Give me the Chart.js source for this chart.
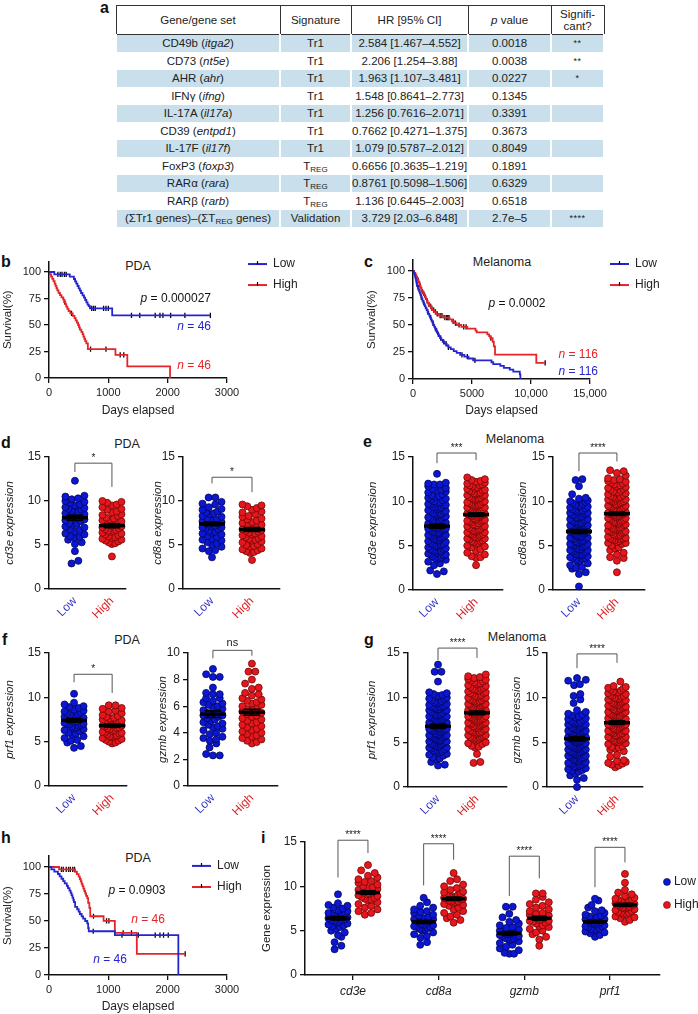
<!DOCTYPE html>
<html>
<head>
<meta charset="utf-8">
<title>Tr1 signature: survival and effector gene expression</title>
<script src="https://cdn.jsdelivr.net/npm/chart.js@4.4.1/dist/chart.umd.min.js"></script>
<style>
  html, body { margin: 0; padding: 0; background: #fff; }
  body { position: relative; width: 698px; height: 1014px; overflow: hidden; font-family: "Liberation Sans", Arial, sans-serif; color: #222; }
  canvas { position: absolute; }
  .letter { position: absolute; font-weight: bold; font-size: 16px; line-height: 16px; transform: translateY(-50%); color: #111; }
  .ptitle { position: absolute; font-size: 12.5px; line-height: 14px; transform: translate(-50%, -50%); white-space: nowrap; }
  #tbl { position: absolute; left: 115px; top: 5px; border-collapse: collapse; table-layout: fixed; font-size: 11.5px; color: #222; }
  #tbl th { font-weight: normal; height: 28px; padding: 0; border: 1px solid #333; line-height: 12px; text-align: center; }
  #tbl td { height: 16.5px; padding: 0; text-align: center; border-top: 1px solid #fff; border-left: 2px solid #fff; border-right: 2px solid #fff; white-space: nowrap; }
  #tbl tr.shade td { background: #c9dfeb; }
  #tbl sub { font-size: 8px; line-height: 0; vertical-align: -2px; }
  #tbl td.stars { font-size: 9px; letter-spacing: 0.5px; }
</style>
</head>
<body>
<table id="tbl"></table>
<script>
// ---- table a ----
const tableHeader = ['Gene/gene set', 'Signature', 'HR [95% CI]', '<i>p</i> value', 'Signifi-<br>cant?'];
const geneSets = ['CD49b (<i>itga2</i>)', 'CD73 (<i>nt5e</i>)', 'AHR (<i>ahr</i>)', 'IFN\u03b3 (<i>ifng</i>)', 'IL-17A (<i>il17a</i>)',
  'CD39 (<i>entpd1</i>)', 'IL-17F (<i>il17f</i>)', 'FoxP3 (<i>foxp3</i>)', 'RAR\u03b1 (<i>rara</i>)', 'RAR\u03b2 (<i>rarb</i>)',
  '(\u03a3Tr1 genes)\u2013(\u03a3T<sub>REG</sub> genes)'];
const signatures = ['Tr1', 'Tr1', 'Tr1', 'Tr1', 'Tr1', 'Tr1', 'Tr1', 'T<sub>REG</sub>', 'T<sub>REG</sub>', 'T<sub>REG</sub>', 'Validation'];
const hazardRatios = ['2.584 [1.467\u20134.552]', '2.206 [1.254\u20133.88]', '1.963 [1.107\u20133.481]', '1.548 [0.8641\u20132.773]',
  '1.256 [0.7616\u20132.071]', '0.7662 [0.4271\u20131.375]', '1.079 [0.5787\u20132.012]', '0.6656 [0.3635\u20131.219]',
  '0.8761 [0.5098\u20131.506]', '1.136 [0.6445\u20132.003]', '3.729 [2.03\u20136.848]'];
const pValues = ['0.0018', '0.0038', '0.0227', '0.1345', '0.3391', '0.3673', '0.8049', '0.1891', '0.6329', '0.6518', '2.7e\u20135'];
const significance = ['**', '**', '*', '', '', '', '', '', '', '', '****'];

// ---- survival curves (days, % surviving after each step) ----
const kmYTicks = [0, 25, 50, 75, 100];
const pdaXTicks = [0, 1000, 2000, 3000];
const melXTicks = [0, 5000, 10000, 15000];

const bLowT = [0, 90, 350, 420, 440, 460, 480, 500, 520, 540, 565, 590, 610, 630, 650, 670, 690, 1065, 2720];
const bLowS = [100, 97.8, 95.6, 93.4, 91.2, 89.0, 86.8, 84.6, 82.4, 80.2, 78.0, 75.8, 73.6, 71.4, 69.2, 67.9, 65.7, 59.0, 59.0];
const bLowCens = [150, 190, 220, 260, 290, 720, 750, 780, 920, 960, 1000, 1390, 1530, 1790, 1870, 1920, 2050, 2290, 2720];
const bHighT = [0, 15, 35, 55, 75, 95, 110, 125, 140, 160, 185, 210, 240, 255, 275, 290, 310, 330, 360, 400,
  430, 450, 470, 490, 505, 520, 545, 565, 580, 595, 610, 630, 655, 1120, 1320, 2040];
const bHighS = [100, 97.8, 95.7, 93.5, 91.3, 89.1, 87.0, 84.8, 82.6, 80.4, 78.2, 76.1, 73.9, 71.7, 69.6, 67.4, 65.2, 63.0, 60.9, 58.7,
  56.5, 54.3, 52.2, 50.0, 47.8, 45.7, 43.5, 41.3, 39.1, 37.0, 34.8, 32.6, 27.2, 21.8, 10.9, 0];
const bHighCens = [265, 380, 700, 960, 1200, 1260];

const cLowT = [0, 60, 120, 170, 210, 250, 280, 310, 360, 410, 460, 520, 580, 640, 700, 750, 800, 870, 940, 1010,
  1080, 1160, 1230, 1300, 1380, 1440, 1520, 1590, 1660, 1720, 1800, 1870, 1950, 2030, 2110, 2200, 2290, 2400, 2520, 2650,
  2850, 3000, 3200, 3450, 3700, 4000, 4350, 4700, 5100, 6650, 6800, 7400, 7700, 8200, 8500, 9050, 9100];
const cLowS = [100, 98.3, 96.6, 94.8, 93.1, 91.4, 89.7, 87.9, 86.2, 84.5, 82.8, 81.0, 79.3, 77.6, 75.9, 74.1, 72.4, 70.7, 69.0, 67.2,
  65.5, 63.8, 62.1, 60.3, 58.6, 56.9, 55.2, 53.4, 51.7, 50.0, 48.3, 46.6, 44.8, 43.1, 41.4, 39.7, 37.9, 36.2, 34.5, 32.8,
  31.0, 29.3, 27.6, 25.9, 24.1, 22.4, 20.7, 19.0, 17.2, 15.5, 13.8, 12.1, 10.3, 8.6, 6.9, 4.3, 0];
const cLowCens = [330, 450, 700, 900, 1250, 1500, 1700, 1900, 2000, 2150, 2350, 2600, 2800, 3000, 4150, 4600, 5250];
const cHighT = [0, 100, 200, 280, 350, 420, 480, 540, 600, 650, 700, 760, 850, 940, 1020, 1100, 1170, 1240, 1310, 1420,
  1530, 1650, 1800, 1950, 2200, 2600, 3100, 3300, 3500, 3700, 4100, 4600, 5300, 5400, 6300, 6450, 6550, 6750, 6850, 6950, 10450, 11200];
const cHighS = [100, 98.3, 96.6, 94.8, 93.1, 91.4, 89.7, 87.9, 86.2, 84.5, 82.8, 81.0, 79.3, 77.6, 75.9, 74.1, 72.4, 70.7, 69.0, 67.2,
  65.5, 63.8, 62.1, 60.3, 58.6, 56.9, 55.2, 53.4, 51.7, 50.0, 48.3, 46.6, 44.8, 43.1, 41.4, 39.7, 37.9, 34.5, 30.2, 22.5, 15.0, 15.0];
const cHighCens = [450, 560, 620, 720, 800, 900, 980, 1060, 1200, 1350, 1500, 1600, 1750, 1900, 2050, 2300, 2450, 2700, 2850, 2950,
  3050, 3400, 3600, 3900, 4300, 4500, 6600, 11200];

const hLowT = [0, 40, 90, 150, 180, 210, 240, 265, 300, 320, 345, 365, 380, 395, 410, 420, 440, 475, 500, 520,
  550, 575, 610, 645, 660, 670, 1110, 2180];
const hLowS = [100, 97.8, 95.7, 93.5, 91.3, 89.1, 87.0, 84.8, 82.6, 80.4, 78.2, 76.1, 73.9, 71.7, 69.6, 67.4, 63.0, 60.9, 58.7, 56.5,
  54.3, 52.2, 50.0, 47.8, 43.5, 40.5, 37.0, 0];
const hLowCens = [745, 1230, 1505, 1790, 1870, 1930, 2010];
const hHighT = [0, 170, 440, 470, 500, 520, 535, 550, 565, 580, 595, 610, 625, 645, 660, 680, 695, 920, 1110, 1480, 2295];
const hHighS = [100, 97.8, 95.6, 93.4, 91.1, 88.9, 86.7, 84.4, 82.2, 80.0, 77.8, 75.5, 73.3, 71.1, 66.7, 62.2, 54.4, 50.2, 39.0, 19.5, 19.5];
const hHighCens = [210, 240, 290, 330, 360, 400, 430, 750, 970, 1010, 1250, 1390, 2295];

// ---- expression dot plots ----
const groupNames = ['Low', 'High'];
const geneNames = ['cd3e', 'cd8a', 'gzmb', 'prf1'];
const tick15 = [0, 5, 10, 15];
const tick10 = [0, 2, 4, 6, 8, 10];

const dCd3eLow = [12.3, 10.6, 10.5, 10.3, 10.2, 10.0, 9.9, 9.8, 9.6, 9.5, 9.3, 9.2, 9.0, 8.9, 8.8, 8.7, 8.6, 8.5, 8.4, 8.3,
  8.2, 8.1, 8.0, 7.9, 7.8, 7.7, 7.5, 7.4, 7.3, 7.1, 7.0, 6.8, 6.7, 6.5, 6.3, 6.2, 6.0, 5.9, 5.8, 5.6, 5.3, 5.1, 4.3, 3.2, 2.9, 9.1];
const dCd3eHigh = [10.0, 9.9, 9.8, 9.6, 9.5, 9.3, 9.1, 9.0, 8.8, 8.7, 8.5, 8.4, 8.3, 8.1, 8.0, 7.9, 7.8, 7.6, 7.5, 7.4,
  7.3, 7.2, 7.1, 7.0, 6.9, 6.8, 6.7, 6.6, 6.5, 6.4, 6.3, 6.2, 6.1, 6.0, 5.9, 5.8, 5.7, 5.6, 5.5, 5.4, 5.3, 5.2, 5.1, 6.6, 7.7, 3.7];
const dCd8aLow = [10.4, 10.4, 9.9, 9.7, 9.6, 9.3, 9.1, 9.0, 8.8, 8.7, 8.5, 8.3, 8.2, 8.0, 7.9, 7.8, 7.7, 7.6, 7.5, 7.4,
  7.3, 7.2, 7.1, 7.0, 6.9, 6.8, 6.6, 6.5, 6.4, 6.3, 6.2, 6.0, 5.9, 5.7, 5.6, 5.5, 5.3, 5.2, 5.0, 4.8, 4.6, 4.4, 4.3, 3.6, 8.6, 7.0];
const dCd8aHigh = [9.6, 9.5, 9.4, 9.2, 9.0, 8.7, 8.5, 8.3, 8.2, 8.0, 7.8, 7.6, 7.5, 7.3, 7.2, 7.0, 6.9, 6.8, 6.7, 6.6,
  6.5, 6.4, 6.2, 6.1, 6.0, 5.9, 5.8, 5.6, 5.5, 5.4, 5.3, 5.1, 5.0, 4.9, 4.8, 4.6, 4.5, 4.4, 4.3, 4.2, 4.1, 3.3, 7.9, 6.3, 5.7, 8.8];

const eCd3eLow = [13.1, 12.1, 12.0, 11.9, 11.9, 11.7, 11.5, 11.4, 11.2, 11.1, 11.0, 10.8, 10.7, 10.5, 10.4, 10.3, 10.1, 10.0, 9.9, 9.8,
  9.7, 9.6, 9.5, 9.4, 9.3, 9.2, 9.1, 9.0, 8.9, 8.8, 8.7, 8.6, 8.5, 8.4, 8.3, 8.2, 8.1, 8.0, 7.9, 7.8,
  7.8, 7.7, 7.6, 7.5, 7.4, 7.3, 7.2, 7.2, 7.1, 7.0, 6.9, 6.9, 6.8, 6.7, 6.6, 6.5, 6.4, 6.3, 6.2, 6.1,
  6.0, 6.0, 5.9, 5.8, 5.7, 5.6, 5.5, 5.4, 5.3, 5.2, 5.1, 5.0, 4.9, 4.8, 4.7, 4.6, 4.5, 4.4, 4.3, 4.2,
  4.1, 4.0, 3.9, 3.8, 3.7, 3.6, 3.5, 3.4, 3.2, 3.0, 2.8, 2.2, 2.1, 1.8, 9.6, 8.9, 8.2, 7.5, 6.8, 6.2,
  5.6, 5.0, 4.4, 3.6, 10.6, 9.3, 8.6, 7.9, 7.0, 6.5, 5.8, 5.2, 4.6, 4.0, 11.3, 10.2];
const eCd3eHigh = [12.7, 12.5, 12.4, 12.3, 12.2, 12.0, 11.9, 11.8, 11.7, 11.6, 11.5, 11.4, 11.3, 11.2, 11.1, 11.0, 10.9, 10.8, 10.7, 10.6,
  10.5, 10.4, 10.3, 10.2, 10.1, 10.0, 9.9, 9.8, 9.7, 9.6, 9.5, 9.4, 9.3, 9.2, 9.1, 9.0, 8.9, 8.8, 8.7, 8.6,
  8.5, 8.5, 8.4, 8.3, 8.2, 8.1, 8.0, 7.9, 7.8, 7.7, 7.6, 7.5, 7.4, 7.3, 7.2, 7.1, 7.0, 6.9, 6.8, 6.7,
  6.6, 6.5, 6.4, 6.3, 6.2, 6.1, 6.0, 5.9, 5.8, 5.7, 5.6, 5.5, 5.4, 5.3, 5.2, 5.0, 4.8, 4.6, 4.4, 4.2,
  4.0, 3.8, 3.7, 3.6, 2.8, 11.8, 11.2, 10.7, 10.3, 9.9, 9.6, 9.3, 9.0, 8.8, 8.6, 8.3, 8.0, 7.7, 7.3, 6.9,
  6.5, 6.2, 5.9, 5.5, 12.1, 10.9, 10.4, 9.7, 9.1, 8.4, 7.8, 7.2, 6.7, 6.3, 5.8, 4.9];
const eCd8aLow = [12.5, 12.4, 11.7, 10.8, 10.4, 10.3, 10.1, 10.0, 9.9, 9.8, 9.7, 9.6, 9.5, 9.4, 9.3, 9.2, 9.1, 9.0, 8.9, 8.8,
  8.7, 8.6, 8.5, 8.4, 8.3, 8.2, 8.1, 8.0, 7.9, 7.8, 7.7, 7.6, 7.5, 7.4, 7.3, 7.2, 7.1, 7.0, 6.9, 6.8,
  6.7, 6.6, 6.5, 6.5, 6.4, 6.3, 6.2, 6.1, 6.0, 6.0, 5.9, 5.8, 5.7, 5.6, 5.5, 5.4, 5.3, 5.2, 5.1, 5.0,
  4.9, 4.8, 4.7, 4.6, 4.5, 4.4, 4.3, 4.2, 4.1, 4.0, 3.9, 3.8, 3.7, 3.6, 3.5, 3.4, 3.3, 3.2, 3.0, 2.8,
  2.6, 2.5, 2.4, 2.0, 1.8, 0.4, 9.5, 9.0, 8.5, 8.0, 7.6, 7.2, 6.8, 6.4, 6.1, 5.8, 5.5, 5.2, 4.9, 4.6,
  4.3, 4.0, 3.6, 8.7, 8.2, 7.8, 7.3, 6.9, 6.3, 5.9, 5.4, 5.0, 4.5, 3.9, 7.0, 6.6];
const eCd8aHigh = [13.5, 13.4, 13.2, 12.9, 12.6, 12.5, 12.4, 12.2, 12.1, 12.0, 11.8, 11.7, 11.6, 11.5, 11.3, 11.2, 11.1, 11.0, 10.9, 10.8,
  10.6, 10.5, 10.4, 10.3, 10.2, 10.1, 10.0, 9.9, 9.8, 9.7, 9.6, 9.5, 9.4, 9.3, 9.2, 9.1, 9.0, 8.9, 8.8, 8.7,
  8.6, 8.6, 8.5, 8.4, 8.3, 8.2, 8.1, 8.0, 7.9, 7.8, 7.7, 7.6, 7.5, 7.4, 7.3, 7.2, 7.1, 7.0, 6.9, 6.8,
  6.7, 6.6, 6.5, 6.4, 6.3, 6.2, 6.1, 6.0, 5.9, 5.8, 5.7, 5.6, 5.5, 5.4, 5.3, 5.2, 5.0, 4.8, 4.5, 4.2,
  4.0, 3.7, 3.6, 3.3, 2.0, 11.9, 11.4, 10.7, 10.2, 9.7, 9.3, 8.9, 8.5, 8.1, 7.7, 7.3, 6.9, 6.5, 6.1, 5.7,
  12.3, 11.0, 10.5, 9.9, 9.5, 9.0, 8.4, 7.9, 7.5, 7.0, 6.6, 6.2, 5.8, 5.3, 4.7, 10.0];

const fPrf1Low = [10.4, 9.4, 9.2, 9.0, 8.9, 8.8, 8.6, 8.5, 8.4, 8.3, 8.2, 8.1, 8.0, 7.9, 7.8, 7.7, 7.6, 7.5, 7.5, 7.4,
  7.3, 7.2, 7.1, 7.0, 6.9, 6.8, 6.7, 6.6, 6.5, 6.4, 6.3, 6.2, 6.0, 5.9, 5.8, 5.6, 5.4, 5.2, 5.1, 4.9, 4.5, 4.3, 7.0, 7.6, 8.0, 6.9];
const fPrf1High = [9.1, 9.1, 8.8, 8.7, 8.5, 8.4, 8.2, 8.0, 7.9, 7.8, 7.7, 7.5, 7.4, 7.3, 7.2, 7.1, 7.0, 6.9, 6.9, 6.8,
  6.7, 6.6, 6.5, 6.4, 6.3, 6.2, 6.1, 6.0, 5.9, 5.8, 5.7, 5.6, 5.5, 5.4, 5.3, 5.2, 5.1, 5.0, 4.9, 4.8, 6.8, 6.5, 7.2, 6.0, 5.6, 7.6];
const fGzmbLow = [8.8, 8.4, 8.2, 8.2, 7.4, 6.9, 6.9, 6.6, 6.4, 6.2, 6.1, 6.0, 5.9, 5.8, 5.7, 5.6, 5.5, 5.4, 5.3, 5.2,
  5.1, 5.0, 4.9, 4.8, 4.6, 4.5, 4.4, 4.3, 4.2, 4.0, 3.9, 3.7, 3.6, 3.4, 3.2, 2.9, 2.4, 2.3, 2.3, 6.3, 5.5, 5.3, 4.7, 6.6, 7.0, 3.5];
const fGzmbHigh = [9.2, 8.6, 8.6, 8.0, 7.7, 7.4, 7.3, 7.0, 6.9, 6.8, 6.6, 6.5, 6.3, 6.2, 6.1, 6.0, 5.9, 5.8, 5.7, 5.6,
  5.5, 5.4, 5.3, 5.2, 5.1, 5.0, 4.9, 4.8, 4.7, 4.6, 4.5, 4.4, 4.3, 4.2, 4.1, 4.0, 3.9, 3.8, 3.7, 3.6, 3.5, 3.4, 3.3, 3.2, 6.4, 5.8];

const gPrf1Low = [13.7, 12.9, 12.9, 11.8, 10.6, 10.5, 10.4, 10.2, 10.0, 9.9, 9.8, 9.6, 9.5, 9.4, 9.3, 9.2, 9.1, 9.0, 8.9, 8.8,
  8.7, 8.6, 8.5, 8.4, 8.3, 8.2, 8.1, 8.0, 7.9, 7.8, 7.7, 7.6, 7.5, 7.4, 7.3, 7.2, 7.1, 7.0, 6.9, 6.8,
  6.8, 6.7, 6.6, 6.5, 6.4, 6.3, 6.2, 6.1, 6.0, 5.9, 5.8, 5.7, 5.6, 5.5, 5.4, 5.3, 5.2, 5.1, 5.0, 4.9,
  4.8, 4.7, 4.6, 4.5, 4.4, 4.3, 4.2, 4.1, 4.0, 3.9, 3.8, 3.7, 3.6, 3.5, 3.3, 3.2, 3.1, 2.8, 2.5, 2.4,
  9.7, 9.0, 8.6, 8.1, 7.6, 7.2, 6.9, 6.5, 6.2, 5.8, 5.5, 5.1, 4.7, 4.4, 4.0, 8.9, 8.3, 7.8, 7.4, 7.0,
  6.6, 6.3, 5.9, 5.6, 5.2, 4.8, 4.5, 10.3, 9.5, 8.7, 7.9, 7.1, 6.4, 5.7, 5.3, 4.9];
const gPrf1High = [12.6, 12.4, 12.3, 12.2, 12.0, 11.9, 11.8, 11.6, 11.5, 11.4, 11.3, 11.2, 11.1, 11.0, 10.9, 10.8, 10.7, 10.6, 10.5, 10.4,
  10.3, 10.2, 10.1, 10.0, 9.9, 9.8, 9.7, 9.6, 9.5, 9.4, 9.3, 9.2, 9.1, 9.0, 8.9, 8.8, 8.7, 8.6, 8.5, 8.4,
  8.3, 8.3, 8.2, 8.1, 8.0, 7.9, 7.8, 7.7, 7.6, 7.5, 7.4, 7.3, 7.2, 7.1, 7.0, 6.9, 6.8, 6.7, 6.6, 6.5,
  6.4, 6.3, 6.2, 6.1, 6.0, 5.9, 5.8, 5.7, 5.6, 5.5, 5.4, 5.3, 5.2, 5.0, 4.8, 4.6, 4.5, 4.4, 3.7, 2.8,
  2.7, 11.7, 11.0, 10.5, 10.0, 9.6, 9.2, 8.9, 8.5, 8.2, 7.9, 7.5, 7.2, 6.8, 6.5, 6.1, 5.8, 5.5, 12.1, 10.8,
  10.2, 9.7, 9.3, 8.8, 8.4, 8.0, 7.6, 7.1, 6.6, 6.2, 5.6, 4.9, 9.0, 8.6, 7.7, 7.0];
const gGzmbLow = [12.2, 12.0, 11.9, 11.5, 11.4, 10.4, 10.2, 9.8, 9.4, 8.6, 8.4, 8.2, 8.0, 7.9, 7.8, 7.6, 7.5, 7.4, 7.3, 7.2,
  7.1, 7.0, 6.9, 6.8, 6.7, 6.6, 6.5, 6.4, 6.3, 6.2, 6.1, 6.0, 5.9, 5.8, 5.7, 5.6, 5.5, 5.4, 5.3, 5.2,
  5.1, 5.0, 4.9, 4.8, 4.7, 4.6, 4.5, 4.4, 4.3, 4.2, 4.1, 4.0, 3.9, 3.8, 3.7, 3.6, 3.5, 3.4, 3.3, 3.2,
  3.1, 3.0, 2.9, 2.8, 2.7, 2.6, 2.5, 2.4, 2.3, 2.2, 2.1, 2.0, 1.9, 1.8, 1.7, 1.5, 1.3, 1.0, 0.8, 0.0,
  7.7, 7.0, 6.6, 6.2, 5.9, 5.5, 5.2, 4.9, 4.5, 4.2, 3.8, 3.5, 3.1, 2.7, 2.3, 7.3, 6.9, 6.4, 6.0, 5.6,
  5.3, 5.0, 4.7, 4.3, 4.0, 3.6, 3.3, 2.9, 8.1, 6.7, 5.7, 4.6, 3.9, 2.5, 6.3, 5.1];
const gGzmbHigh = [11.8, 11.3, 11.2, 11.1, 11.0, 10.9, 10.8, 10.7, 10.6, 10.5, 10.4, 10.3, 10.2, 10.1, 10.0, 9.9, 9.8, 9.7, 9.6, 9.5,
  9.4, 9.3, 9.2, 9.1, 9.0, 8.9, 8.8, 8.7, 8.6, 8.5, 8.4, 8.3, 8.2, 8.1, 8.0, 7.9, 7.8, 7.7, 7.6, 7.5,
  7.4, 7.3, 7.2, 7.1, 7.0, 6.9, 6.8, 6.7, 6.6, 6.5, 6.4, 6.3, 6.2, 6.1, 6.0, 5.9, 5.8, 5.7, 5.6, 5.5,
  5.4, 5.3, 5.2, 5.1, 5.0, 4.9, 4.8, 4.6, 4.4, 4.3, 4.2, 4.0, 3.6, 3.4, 2.9, 2.8, 2.7, 2.6, 2.4, 2.2,
  9.9, 9.4, 9.0, 8.6, 8.2, 7.8, 7.4, 7.0, 6.6, 6.2, 5.8, 5.4, 5.0, 10.6, 9.7, 8.9, 8.0, 7.2, 6.4, 5.6,
  10.2, 9.2, 8.4, 7.6, 6.8, 6.0, 5.2, 4.5, 3.0, 2.5, 7.9, 7.1, 6.3, 8.7, 9.5, 6.9];

const iCd3eLow = [9.1, 8.1, 7.9, 7.8, 7.6, 7.5, 7.3, 7.2, 7.0, 6.9, 6.8, 6.7, 6.6, 6.5, 6.4, 6.3, 6.2, 6.1, 6.0, 5.9,
  5.8, 5.7, 5.6, 5.5, 5.4, 5.2, 5.0, 4.8, 4.5, 4.3, 3.7, 3.3, 2.9, 6.6, 6.2, 7.0];
const iCd3eHigh = [12.4, 11.8, 11.5, 11.2, 11.0, 10.8, 10.6, 10.4, 10.2, 10.0, 9.9, 9.8, 9.6, 9.5, 9.4, 9.3, 9.2, 9.1, 9.0, 8.9,
  8.8, 8.6, 8.5, 8.4, 8.2, 8.0, 7.8, 7.6, 7.4, 7.2, 7.0, 6.8, 9.7, 9.3, 10.5, 8.7];
const iCd8aLow = [8.7, 8.2, 7.8, 7.6, 7.4, 7.2, 7.0, 6.8, 6.7, 6.5, 6.4, 6.3, 6.2, 6.1, 6.0, 5.9, 5.8, 5.7, 5.6, 5.5,
  5.4, 5.3, 5.2, 5.1, 5.0, 4.8, 4.6, 4.4, 4.2, 3.7, 3.4, 6.0, 5.7, 6.3, 7.1, 5.4];
const iCd8aHigh = [11.5, 10.8, 10.6, 10.2, 10.0, 9.8, 9.6, 9.4, 9.3, 9.2, 9.0, 8.9, 8.8, 8.7, 8.6, 8.5, 8.4, 8.3, 8.2, 8.1,
  8.0, 7.8, 7.6, 7.4, 7.2, 7.0, 6.8, 6.6, 6.4, 6.2, 5.9, 8.6, 8.3, 9.0, 7.9, 8.8];
const iGzmbLow = [7.7, 7.7, 6.9, 6.5, 6.2, 6.0, 5.8, 5.6, 5.4, 5.3, 5.1, 5.0, 4.9, 4.8, 4.7, 4.6, 4.5, 4.4, 4.3, 4.2,
  4.1, 4.0, 3.9, 3.8, 3.6, 3.4, 3.2, 3.0, 2.8, 2.5, 2.4, 2.4, 4.7, 4.4, 5.0, 4.1];
const iGzmbHigh = [9.2, 9.2, 8.8, 8.5, 8.2, 8.0, 7.8, 7.6, 7.4, 7.2, 7.0, 6.9, 6.8, 6.7, 6.6, 6.5, 6.4, 6.3, 6.2, 6.1,
  6.0, 5.9, 5.8, 5.6, 5.4, 5.2, 5.0, 4.8, 4.6, 4.3, 4.0, 3.3, 6.4, 6.1, 6.7, 5.5];
const iPrf1Low = [8.6, 8.4, 7.9, 7.6, 7.3, 7.2, 7.0, 6.8, 6.7, 6.5, 6.4, 6.3, 6.2, 6.1, 6.0, 5.9, 5.8, 5.7, 5.6, 5.5,
  5.4, 5.3, 5.2, 5.1, 5.0, 4.9, 4.7, 4.5, 4.3, 6.0, 5.7, 6.3, 5.5, 6.6, 5.9, 4.8];
const iPrf1High = [11.4, 10.4, 9.6, 9.3, 9.1, 8.9, 8.7, 8.6, 8.5, 8.4, 8.3, 8.2, 8.1, 8.0, 7.9, 7.8, 7.7, 7.6, 7.5, 7.4,
  7.3, 7.2, 7.1, 7.0, 6.9, 6.8, 6.6, 6.4, 6.2, 6.0, 7.9, 8.2, 7.6, 7.0, 8.5, 6.5];

// mean and SEM per plot: [Low, High]
const meanD = [[8.1, 7.2], [7.4, 6.75]], semD = [[0.28, 0.22], [0.22, 0.22]];
const meanE = [[7.2, 8.5], [6.6, 8.6]], semE = [[0.22, 0.2], [0.22, 0.2]];
const meanF = [[7.4, 6.8], [5.4, 5.55]], semF = [[0.2, 0.18], [0.25, 0.22]];
const meanG = [[6.8, 8.3], [5.4, 7.2]], semG = [[0.22, 0.2], [0.24, 0.2]];
const meanI = [[6.4, 9.3], [6.0, 8.6], [4.7, 6.4], [6.0, 7.9]];
const semI = [[0.2, 0.2], [0.18, 0.2], [0.2, 0.22], [0.16, 0.18]];

// significance brackets: [top, left leg end, right leg end, label]
const bracketD = [[14.3, 13.3, 11.6, '*'], [12.7, 12.0, 11.0, '*']];
const bracketE = [[15.45, 14.3, 14.65, '***'], [15.45, 13.4, 14.5, '****']];
const bracketF = [[12.6, 11.7, 10.5, '*'], [10.2, 9.6, 9.8, 'ns']];
const bracketG = [[15.55, 14.2, 14.45, '****'], [14.9, 13.3, 13.9, '****']];
const bracketI = [[15.2, 11.0, 13.75, '****'], [14.8, 10.1, 13.0, '****'], [13.4, 8.9, 10.9, '****'], [14.4, 9.9, 12.7, '****']];

// ---- look ----
const FF = '"Liberation Sans", Arial, sans-serif';
const AXIS = '#111';
const LINE_BLUE = '#2424d0', LINE_RED = '#e5242a';
const DOT_BLUE = '#0b17d2', EDGE_BLUE = '#04065a';
const DOT_RED = '#e5171d', EDGE_RED = '#6e0707';
const TXT_BLUE = '#3636c4', TXT_RED = '#dc2328';

Chart.defaults.font.family = FF;
Chart.defaults.color = '#222';
Chart.defaults.animation = false;
Chart.defaults.events = [];
Chart.defaults.plugins.legend.display = false;
Chart.defaults.plugins.tooltip.enabled = false;

const layout = {
  b:  {box: {x: 0, y: 250, w: 340, h: 175}, area: {l: 49, r: 227, t: 261.4, b: 378}},
  c:  {box: {x: 364, y: 250, w: 334, h: 175}, area: {l: 413, r: 590, t: 260.2, b: 379}},
  h:  {box: {x: 0, y: 845, w: 260, h: 176}, area: {l: 49, r: 227, t: 856.2, b: 975}},
  d1: {box: {x: 0, y: 430, w: 140, h: 190}, area: {l: 49, r: 126, t: 457, b: 589}},
  d2: {box: {x: 148, y: 430, w: 150, h: 190}, area: {l: 183, r: 280, t: 457, b: 589}},
  e1: {box: {x: 363, y: 430, w: 150, h: 190}, area: {l: 413, r: 503, t: 457, b: 590}},
  e2: {box: {x: 513, y: 430, w: 150, h: 190}, area: {l: 553, r: 645, t: 457, b: 590}},
  f1: {box: {x: 0, y: 625, w: 140, h: 190}, area: {l: 49, r: 127, t: 653, b: 786}},
  f2: {box: {x: 153, y: 625, w: 140, h: 190}, area: {l: 188, r: 278, t: 653, b: 786}},
  g1: {box: {x: 362, y: 625, w: 150, h: 190}, area: {l: 408, r: 507, t: 653, b: 787}},
  g2: {box: {x: 507, y: 625, w: 150, h: 190}, area: {l: 547, r: 643, t: 653, b: 787}},
  i:  {box: {x: 257, y: 815, w: 441, h: 199}, area: {l: 305, r: 660, t: 842, b: 975}}
};
const panelLetters = [['a', 100, 8], ['b', 1, 262], ['c', 364, 262], ['d', 1, 443], ['e', 363, 442],
  ['f', 2, 640], ['g', 364, 640], ['h', 1, 838], ['i', 261, 838]];
const panelTitles = [['PDA', 138, 266], ['Melanoma', 502, 262], ['PDA', 127, 444], ['Melanoma', 515, 439],
  ['PDA', 127, 640], ['Melanoma', 517, 637], ['PDA', 138, 858]];

// ---- build table ----
(function () {
  const colWidths = [164, 71, 112, 83, 53];
  let html = '<colgroup>' + colWidths.map(w => `<col style="width:${w}px">`).join('') + '</colgroup>';
  html += '<tr>' + tableHeader.map(h => `<th>${h}</th>`).join('') + '</tr>';
  geneSets.forEach((g, i) => {
    html += `<tr class="${i % 2 ? '' : 'shade'}"><td>${g}</td><td>${signatures[i]}</td><td>${hazardRatios[i]}</td>` +
      `<td>${pValues[i]}</td><td class="stars">${significance[i]}</td></tr>`;
  });
  document.getElementById('tbl').innerHTML = html;
})();

panelLetters.forEach(([t, x, y]) => {
  const d = document.createElement('div');
  d.className = 'letter'; d.textContent = t; d.style.left = x + 'px'; d.style.top = y + 'px';
  document.body.appendChild(d);
});
panelTitles.forEach(([t, x, y]) => {
  const d = document.createElement('div');
  d.className = 'ptitle'; d.textContent = t; d.style.left = x + 'px'; d.style.top = y + 'px';
  document.body.appendChild(d);
});

// ---- helpers ----
function makeCanvas(box) {
  const c = document.createElement('canvas');
  c.width = box.w; c.height = box.h;
  Object.assign(c.style, {left: box.x + 'px', top: box.y + 'px', width: box.w + 'px', height: box.h + 'px'});
  document.body.appendChild(c);
  return c;
}

// pin the chart area to an exact spot inside the canvas
function frame(box, area) {
  return {
    padding: {left: 0, top: area.t - box.y, right: box.x + box.w - area.r, bottom: 0},
    yw: area.l - box.x,
    xh: box.y + box.h - area.b
  };
}

function richText(ctx, parts, x, y, align, size, color) {
  let w = 0;
  parts.forEach(p => { ctx.font = (p.i ? 'italic ' : '') + size + 'px ' + FF; p.w = ctx.measureText(p.t).width; w += p.w; });
  let cx = align === 'right' ? x - w : align === 'center' ? x - w / 2 : x;
  ctx.fillStyle = color; ctx.textBaseline = 'middle'; ctx.textAlign = 'left';
  parts.forEach(p => { ctx.font = (p.i ? 'italic ' : '') + size + 'px ' + FF; ctx.fillText(p.t, cx, y); cx += p.w; });
}

function annot(items) {
  return {
    id: 'annot',
    afterDatasetsDraw(chart) {
      const {ctx} = chart, X = chart.scales.x, Y = chart.scales.y;
      ctx.save();
      items.forEach(it => {
        if (it.type === 'mean') {
          const cx = X.getPixelForValue(it.x), my = Y.getPixelForValue(it.m);
          const hi = Y.getPixelForValue(it.m + it.s), lo = Y.getPixelForValue(it.m - it.s);
          ctx.strokeStyle = '#000';
          ctx.lineWidth = 3.5;
          ctx.beginPath(); ctx.moveTo(cx - it.w / 2, my); ctx.lineTo(cx + it.w / 2, my); ctx.stroke();
          ctx.lineWidth = 1.6;
          ctx.beginPath();
          ctx.moveTo(cx, hi); ctx.lineTo(cx, lo);
          ctx.moveTo(cx - it.w * 0.32, hi); ctx.lineTo(cx + it.w * 0.32, hi);
          ctx.moveTo(cx - it.w * 0.32, lo); ctx.lineTo(cx + it.w * 0.32, lo);
          ctx.stroke();
          return;
        }
        const px = X.getPixelForValue(it.x), py = Y.getPixelForValue(it.y);
        if (it.type === 'text') {
          richText(ctx, it.parts, px, py, it.align || 'left', it.size || 12, it.color || '#222');
        } else if (it.type === 'kmLegend') {
          ctx.strokeStyle = it.color; ctx.lineWidth = 2;
          ctx.beginPath(); ctx.moveTo(px, py); ctx.lineTo(px + 19, py); ctx.stroke();
          ctx.strokeStyle = '#000'; ctx.lineWidth = 1.2;
          ctx.beginPath(); ctx.moveTo(px + 9.5, py - 3); ctx.lineTo(px + 9.5, py + 0.5); ctx.stroke();
          richText(ctx, [{t: it.label}], px + 25, py, 'left', 12, '#222');
        } else if (it.type === 'dotLegend') {
          ctx.fillStyle = it.fill; ctx.strokeStyle = it.edge; ctx.lineWidth = 0.6;
          ctx.beginPath(); ctx.arc(px, py, 3.5, 0, Math.PI * 2); ctx.fill(); ctx.stroke();
          richText(ctx, [{t: it.label}], px + 7, py, 'left', 12, '#222');
        } else if (it.type === 'bracket') {
          const x1 = X.getPixelForValue(it.x1), x2 = X.getPixelForValue(it.x2);
          const yt = Y.getPixelForValue(it.top), y1 = Y.getPixelForValue(it.y1), y2 = Y.getPixelForValue(it.y2);
          ctx.strokeStyle = '#555'; ctx.lineWidth = 1;
          ctx.beginPath(); ctx.moveTo(x1, y1); ctx.lineTo(x1, yt); ctx.lineTo(x2, yt); ctx.lineTo(x2, y2); ctx.stroke();
          ctx.fillStyle = '#222'; ctx.textAlign = 'center'; ctx.textBaseline = 'bottom';
          ctx.font = (it.label === 'ns' ? '11px ' : '10px ') + FF;
          ctx.fillText(it.label, (x1 + x2) / 2, yt - (it.label === 'ns' ? 2 : 0));
        }
      });
      ctx.restore();
    }
  };
}

function survAt(T, S, t) {
  let s = S[0];
  for (let i = 0; i < T.length; i++) if (T[i] <= t) s = S[i];
  return s;
}

// Prism-like column scatter: bin by value, lowest point of a bin in the middle, the rest fanned out
function swarm(vals, cx, pxX, pxY) {
  const D = 6.8, HALF = vals.length > 80 ? 8.8 : 9.5;
  const s = vals.slice().sort((a, b) => a - b);
  const bins = [];
  s.forEach(v => {
    const b = bins[bins.length - 1];
    if (b && (v - b[0]) * pxY < D * 0.8) b.push(v); else bins.push([v]);
  });
  const pts = [];
  bins.forEach(b => {
    const n = b.length;
    const step = n > 1 ? Math.min(D, 2 * HALF / (n - 1)) : 0;
    b.forEach((v, k) => {
      let slot;
      if (n % 2) slot = k === 0 ? 0 : (k % 2 ? (k + 1) / 2 : -k / 2);
      else slot = k % 2 ? (k - 1) / 2 + 0.5 : -k / 2 - 0.5;
      pts.push({x: cx + slot * step / pxX, y: v});
    });
  });
  return pts;
}

function axisGrid() {
  return {display: true, drawOnChartArea: false, drawTicks: true, tickLength: 5, color: AXIS, lineWidth: 1.3};
}

function kmPlot(L, xmax, xticks, curves, items) {
  const f = frame(L.box, L.area);
  const datasets = [];
  curves.forEach(c => datasets.push({
    type: 'line', data: c.T.map((t, i) => ({x: t, y: c.S[i]})), stepped: true,
    borderColor: c.color, borderWidth: 1.8, pointRadius: 0, fill: false, clip: 6
  }));
  curves.forEach(c => datasets.push({
    type: 'scatter', data: c.cens.map(t => ({x: t, y: survAt(c.T, c.S, t)})),
    pointStyle: 'line', pointRotation: 90, pointRadius: 2.6,
    pointBorderColor: '#000', pointBorderWidth: 1.3, clip: 6
  }));
  return new Chart(makeCanvas(L.box), {
    type: 'scatter',
    data: {datasets},
    options: {
      responsive: false, devicePixelRatio: 1,
      layout: {padding: f.padding},
      scales: {
        x: {
          type: 'linear', min: 0, max: xmax,
          afterFit: s => { s.height = f.xh; },
          afterBuildTicks: s => { s.ticks = xticks.map(v => ({value: v})); },
          ticks: {autoSkip: false, maxRotation: 0, font: {size: 11}, color: '#222', padding: 3,
            callback: v => v >= 10000 ? v.toLocaleString('en-US') : String(v)},
          grid: axisGrid(),
          border: {display: true, color: AXIS, width: 1.5},
          title: {display: true, text: 'Days elapsed', font: {size: 12}, color: '#222', padding: {top: 0, bottom: 7}}
        },
        y: {
          min: 0, max: 110,
          afterFit: s => { s.width = f.yw; },
          afterBuildTicks: s => { s.ticks = kmYTicks.map(v => ({value: v})); },
          ticks: {font: {size: 11}, color: '#222', padding: 3},
          grid: axisGrid(),
          border: {display: true, color: AXIS, width: 1.5},
          title: {display: true, text: 'Survival(%)', font: {size: 11.5}, color: '#222', padding: {top: 1, bottom: 0}}
        }
      }
    },
    plugins: [annot(items)]
  });
}

function dotPlot(p) {
  const L = p.L, f = frame(L.box, L.area);
  const pxX = (L.area.r - L.area.l) / (p.xr[1] - p.xr[0]);
  const pxY = (L.area.b - L.area.t) / (p.yr[1] - p.yr[0]);
  const datasets = p.groups.map(g => ({
    data: swarm(g.vals, g.x, pxX, pxY),
    pointBackgroundColor: g.low ? DOT_BLUE : DOT_RED,
    pointBorderColor: g.low ? EDGE_BLUE : EDGE_RED,
    pointBorderWidth: 0.8, pointRadius: 3.5, clip: 8
  }));
  const items = p.groups.map(g => ({type: 'mean', x: g.x, m: g.mean, s: g.sem, w: p.barW || 26}));
  p.brackets.forEach(b => items.push({type: 'bracket', x1: b.x1, x2: b.x2, top: b.v[0], y1: b.v[1], y2: b.v[2], label: b.v[3]}));
  (p.extra || []).forEach(e => items.push(e));
  return new Chart(makeCanvas(L.box), {
    type: 'scatter',
    data: {datasets},
    options: {
      responsive: false, devicePixelRatio: 1,
      layout: {padding: f.padding},
      scales: {
        x: {
          type: 'linear', min: p.xr[0], max: p.xr[1],
          afterFit: s => { s.height = f.xh; },
          afterBuildTicks: s => { s.ticks = p.xticks.map(v => ({value: v})); },
          ticks: {autoSkip: false, minRotation: p.rot, maxRotation: p.rot, padding: p.xpad,
            font: p.xfont, color: c => p.tickColors[c.index] || '#222', callback: (v, i) => p.tickNames[i]},
          grid: Object.assign(axisGrid(), {drawTicks: !!p.xTickMarks}),
          border: {display: true, color: AXIS, width: 1.5}
        },
        y: {
          min: p.yr[0], max: p.yr[1],
          afterFit: s => { s.width = f.yw; },
          afterBuildTicks: s => { s.ticks = p.yticks.map(v => ({value: v})); },
          ticks: {font: {size: 12}, color: '#222', padding: 3},
          grid: axisGrid(),
          border: {display: true, color: AXIS, width: 1.5},
          title: {display: true, text: p.ytitle, font: {size: 11.5, style: p.yItalic ? 'italic' : 'normal'},
            color: '#222', padding: {top: 3, bottom: 0}}
        }
      }
    },
    plugins: [annot(items)]
  });
}

function pairPlot(L, xr, low, high, mean, sem, br, yr, yticks, ytitle) {
  return dotPlot({
    L, xr, yr, yticks, ytitle, yItalic: true,
    groups: [
      {x: 1, vals: low, low: true, mean: mean[0], sem: sem[0]},
      {x: 2, vals: high, low: false, mean: mean[1], sem: sem[1]}
    ],
    brackets: [{x1: 1, x2: 2, v: br}],
    xticks: [1, 2], tickNames: groupNames, tickColors: [TXT_BLUE, TXT_RED],
    rot: 45, xpad: 5, xfont: {size: 12}, xTickMarks: false
  });
}

const nText = v => [{t: 'n', i: true}, {t: ' = ' + v}];
const pText = v => [{t: 'p', i: true}, {t: ' = ' + v}];

// ---- b ----
kmPlot(layout.b, 3000, pdaXTicks, [
  {T: bLowT, S: bLowS, cens: bLowCens, color: LINE_BLUE},
  {T: bHighT, S: bHighS, cens: bHighCens, color: LINE_RED}
], [
  {type: 'text', x: 2730, y: 74.5, parts: pText('0.000027'), align: 'right', color: '#111'},
  {type: 'text', x: 2730, y: 48.1, parts: nText(46), align: 'right', color: LINE_BLUE},
  {type: 'text', x: 2730, y: 11.3, parts: nText(46), align: 'right', color: LINE_RED},
  {type: 'kmLegend', x: 3354, y: 107.5, color: LINE_BLUE, label: 'Low'},
  {type: 'kmLegend', x: 3354, y: 87.7, color: LINE_RED, label: 'High'}
]);

// ---- c ----
kmPlot(layout.c, 15000, melXTicks, [
  {T: cLowT, S: cLowS, cens: cLowCens, color: LINE_BLUE},
  {T: cHighT, S: cHighS, cens: cHighCens, color: LINE_RED}
], [
  {type: 'text', x: 8814, y: 69.4, parts: pText('0.0002'), align: 'center', color: '#111'},
  {type: 'text', x: 15678, y: 22.2, parts: nText(116), align: 'right', color: LINE_RED},
  {type: 'text', x: 15678, y: 6.5, parts: nText(116), align: 'right', color: LINE_BLUE},
  {type: 'kmLegend', x: 16695, y: 106.5, color: LINE_BLUE, label: 'Low'},
  {type: 'kmLegend', x: 16695, y: 87, color: LINE_RED, label: 'High'}
]);

// ---- h ----
kmPlot(layout.h, 3000, pdaXTicks, [
  {T: hLowT, S: hLowS, cens: hLowCens, color: LINE_BLUE},
  {T: hHighT, S: hHighS, cens: hHighCens, color: LINE_RED}
], [
  {type: 'text', x: 1483, y: 77.8, parts: pText('0.0903'), align: 'center', color: '#111'},
  {type: 'text', x: 1669, y: 50.9, parts: nText(46), align: 'center', color: LINE_RED},
  {type: 'text', x: 1028, y: 13.9, parts: nText(46), align: 'center', color: LINE_BLUE},
  {type: 'kmLegend', x: 2410, y: 101, color: LINE_BLUE, label: 'Low'},
  {type: 'kmLegend', x: 2410, y: 81.5, color: LINE_RED, label: 'High'}
]);

// ---- d, e, f, g ----
pairPlot(layout.d1, [0.3, 2.38], dCd3eLow, dCd3eHigh, meanD[0], semD[0], bracketD[0], [0, 15], tick15, 'cd3e expression');
pairPlot(layout.d2, [0.275, 2.7], dCd8aLow, dCd8aHigh, meanD[1], semD[1], bracketD[1], [0, 15], tick15, 'cd8a expression');
pairPlot(layout.e1, [0.385, 2.69], eCd3eLow, eCd3eHigh, meanE[0], semE[0], bracketE[0], [0, 15], tick15, 'cd3e expression');
pairPlot(layout.e2, [0.316, 2.74], eCd8aLow, eCd8aHigh, meanE[1], semE[1], bracketE[1], [0, 15], tick15, 'cd8a expression');
pairPlot(layout.f1, [0.342, 2.39], fPrf1Low, fPrf1High, meanF[0], semF[0], bracketF[0], [0, 15], tick15, 'prf1 expression');
pairPlot(layout.f2, [0.36, 2.67], fGzmbLow, fGzmbHigh, meanF[1], semF[1], bracketF[1], [0, 10], tick10, 'gzmb expression');
pairPlot(layout.g1, [0.23, 2.77], gPrf1Low, gPrf1High, meanG[0], semG[0], bracketG[0], [0, 15], tick15, 'prf1 expression');
pairPlot(layout.g2, [0.25, 2.65], gGzmbLow, gGzmbHigh, meanG[1], semG[1], bracketG[1], [0, 15], tick15, 'gzmb expression');

// ---- i ----
(function () {
  const iLow = [iCd3eLow, iCd8aLow, iGzmbLow, iPrf1Low];
  const iHigh = [iCd3eHigh, iCd8aHigh, iGzmbHigh, iPrf1High];
  const off = 0.175;
  const groups = [], brackets = [];
  geneNames.forEach((g, k) => {
    groups.push({x: k + 1 - off, vals: iLow[k], low: true, mean: meanI[k][0], sem: semI[k][0]});
    groups.push({x: k + 1 + off, vals: iHigh[k], low: false, mean: meanI[k][1], sem: semI[k][1]});
    brackets.push({x1: k + 1 - off, x2: k + 1 + off, v: bracketI[k]});
  });
  dotPlot({
    L: layout.i, xr: [0.44, 4.584], yr: [0, 15], yticks: tick15, ytitle: 'Gene expression', yItalic: false,
    groups, brackets, barW: 24,
    xticks: [1, 2, 3, 4], tickNames: geneNames, tickColors: ['#222', '#222', '#222', '#222'],
    rot: 0, xpad: 4, xfont: {size: 12, style: 'italic'}, xTickMarks: true,
    extra: [
      {type: 'dotLegend', x: 4.665, y: 10.5, fill: DOT_BLUE, edge: EDGE_BLUE, label: 'Low'},
      {type: 'dotLegend', x: 4.665, y: 7.9, fill: DOT_RED, edge: EDGE_RED, label: 'High'}
    ]
  });
})();
</script>
</body>
</html>
